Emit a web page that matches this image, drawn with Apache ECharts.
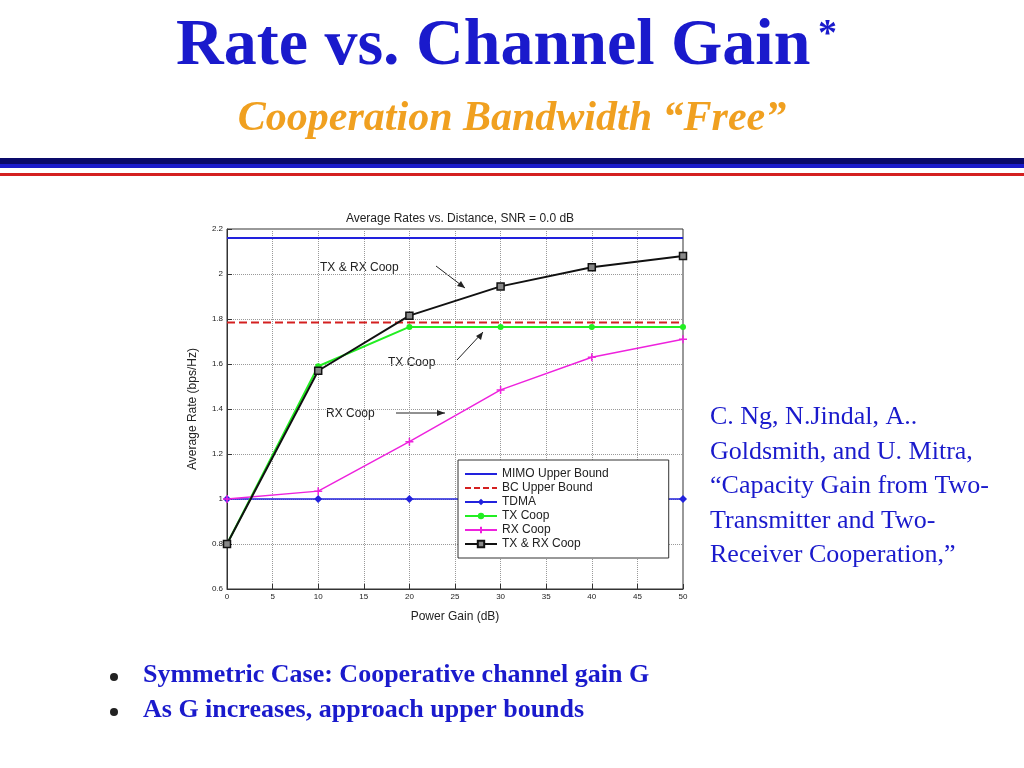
<!DOCTYPE html>
<html><head><meta charset="utf-8">
<script src="https://cdn.jsdelivr.net/npm/echarts@6/dist/echarts.min.js"></script>
<style>html,body{margin:0;padding:0;background:#fff}#main{width:1024px;height:768px}</style>
</head><body><div id="main"></div>
<script>
var xData = [0, 10, 20, 30, 40, 50];
var mimo = [2.16, 2.16, 2.16, 2.16, 2.16, 2.16];
var bc = [1.785, 1.785, 1.785, 1.785, 1.785, 1.785];
var tdma = [1.0, 1.0, 1.0, 1.0, 1.0, 1.0];
var txCoop = [0.8, 1.59, 1.765, 1.765, 1.765, 1.765];
var rxCoop = [1.0, 1.035, 1.255, 1.485, 1.63, 1.71];
var txrxCoop = [0.8, 1.57, 1.815, 1.945, 2.03, 2.08];

function pts(arr) {
  return arr.map(function (v, i) { return [xData[i], v]; });
}

var chart = echarts.init(document.getElementById('main'));
var option = {
  backgroundColor: '#fff',
  animation: false,
  title: [
    { text: 'Average Rates vs. Distance, SNR = 0.0 dB', left: 455, top: 208, textAlign: 'center',
      textStyle: { fontSize: 12, fontWeight: 'normal', color: '#222', fontFamily: 'Liberation Sans' } }
  ],
  grid: { left: 227, right: 341, top: 229, bottom: 179, show: true, borderColor: '#333', borderWidth: 1 },
  xAxis: {
    type: 'value', min: 0, max: 50, interval: 5,
    name: 'Power Gain (dB)', nameLocation: 'middle', nameGap: 22,
    nameTextStyle: { fontSize: 12, color: '#222' },
    axisLine: { lineStyle: { color: '#333' } },
    axisTick: { inside: true, lineStyle: { color: '#333' } },
    axisLabel: { fontSize: 8, color: '#222', margin: 4 },
    splitLine: { lineStyle: { type: 'dotted', color: '#999' } }
  },
  yAxis: {
    type: 'value', min: 0.6, max: 2.2, interval: 0.2,
    name: 'Average Rate (bps/Hz)', nameLocation: 'middle', nameGap: 28,
    nameTextStyle: { fontSize: 12, color: '#222' },
    axisLine: { lineStyle: { color: '#333' } },
    axisTick: { inside: true, lineStyle: { color: '#333' } },
    axisLabel: { fontSize: 8, color: '#222', margin: 4, formatter: function (v) { return +v.toFixed(1); } },
    splitLine: { lineStyle: { type: 'dotted', color: '#999' } }
  },
  legend: {
    orient: 'vertical', left: 458, top: 460, itemGap: 2, itemWidth: 32, itemHeight: 8,
    backgroundColor: '#fff', borderColor: '#333', borderWidth: 1, padding: [8, 60, 8, 6],
    textStyle: { fontSize: 12, color: '#222' },
    data: [
      { name: 'MIMO Upper Bound', icon: 'path://M0,4 L32,4 L32,6 L0,6 Z' },
      { name: 'BC Upper Bound', icon: 'path://M0,4 L6,4 L6,6 L0,6 Z M9,4 L15,4 L15,6 L9,6 Z M18,4 L24,4 L24,6 L18,6 Z M27,4 L32,4 L32,6 L27,6 Z' },
      'TDMA', 'TX Coop', 'RX Coop', 'TX & RX Coop'
    ]
  },
  series: [
    { name: 'MIMO Upper Bound', type: 'line', data: pts(mimo), symbol: 'none',
      lineStyle: { color: '#2222dd', width: 2 }, itemStyle: { color: '#2222dd' } },
    { name: 'BC Upper Bound', type: 'line', data: pts(bc), symbol: 'none',
      lineStyle: { color: '#d42020', width: 2, type: 'dashed' }, itemStyle: { color: '#d42020' } },
    { name: 'TDMA', type: 'line', data: pts(tdma), symbol: 'diamond', symbolSize: 8,
      lineStyle: { color: '#2222dd', width: 1.5 }, itemStyle: { color: '#2222dd' } },
    { name: 'TX Coop', type: 'line', data: pts(txCoop), symbol: 'circle', symbolSize: 6,
      lineStyle: { color: '#22ee22', width: 2 }, itemStyle: { color: '#22ee22' } },
    { name: 'RX Coop', type: 'line', data: pts(rxCoop), symbol: 'path://M0,5 L10,5 M5,0 L5,10', symbolSize: 8,
      lineStyle: { color: '#ee22dd', width: 1.5 }, itemStyle: { color: '#ee22dd', borderColor: '#ee22dd', borderWidth: 1.5 } },
    { name: 'TX & RX Coop', type: 'line', data: pts(txrxCoop), symbol: 'rect', symbolSize: 7,
      lineStyle: { color: '#111', width: 2 }, itemStyle: { color: '#888', borderColor: '#111', borderWidth: 1.5 } }
  ],
  graphic: [
    { type: 'text', left: 176, top: 14, style: { text: 'Rate vs. Channel Gain', font: 'bold 66px "Liberation Serif"', fill: '#1a1acc' } },
    { type: 'text', left: 818, top: 16, style: { text: '*', font: 'bold 38px "Liberation Serif"', fill: '#1a1acc' } },
    { type: 'text', left: 'center', top: 98, style: { text: 'Cooperation Bandwidth \u201cFree\u201d', font: 'italic bold 42px "Liberation Serif"', fill: '#f0a020' } },
    { type: 'rect', shape: { x: 0, y: 158, width: 1024, height: 6 }, style: { fill: '#0a0a6a' } },
    { type: 'rect', shape: { x: 0, y: 164, width: 1024, height: 4 }, style: { fill: '#1a1acc' } },
    { type: 'rect', shape: { x: 0, y: 173, width: 1024, height: 3 }, style: { fill: '#d42020' } },
    { type: 'text', left: 710, top: 400, style: { text: 'C. Ng, N.Jindal, A..\nGoldsmith, and U. Mitra,\n\u201cCapacity Gain from Two-\nTransmitter and Two-\nReceiver Cooperation,\u201d', font: '26px "Liberation Serif"', fill: '#1a1acc', lineHeight: 34.5 } },
    { type: 'circle', shape: { cx: 114, cy: 677, r: 4 }, style: { fill: '#222' } },
    { type: 'circle', shape: { cx: 114, cy: 712, r: 4 }, style: { fill: '#222' } },
    { type: 'text', left: 143, top: 662, style: { text: 'Symmetric Case: Cooperative channel gain G', font: 'bold 26px "Liberation Serif"', fill: '#1a1acc' } },
    { type: 'text', left: 143, top: 697, style: { text: 'As G increases, approach upper bounds', font: 'bold 26px "Liberation Serif"', fill: '#1a1acc' } },
    { type: 'text', left: 320, top: 262, style: { text: 'TX & RX Coop', font: '12px "Liberation Sans"', fill: '#222' } },
    { type: 'text', left: 388, top: 357, style: { text: 'TX Coop', font: '12px "Liberation Sans"', fill: '#222' } },
    { type: 'text', left: 326, top: 408, style: { text: 'RX Coop', font: '12px "Liberation Sans"', fill: '#222' } },
    { type: 'line', shape: { x1: 436, y1: 266, x2: 465, y2: 288 }, style: { stroke: '#222', lineWidth: 1 } },
    { type: 'polygon', shape: { points: [[465, 288], [457, 286], [461, 281]] }, style: { fill: '#222' } },
    { type: 'line', shape: { x1: 457, y1: 360, x2: 483, y2: 332 }, style: { stroke: '#222', lineWidth: 1 } },
    { type: 'polygon', shape: { points: [[483, 332], [481, 340], [476, 336]] }, style: { fill: '#222' } },
    { type: 'line', shape: { x1: 396, y1: 413, x2: 445, y2: 413 }, style: { stroke: '#222', lineWidth: 1 } },
    { type: 'polygon', shape: { points: [[445, 413], [437, 410], [437, 416]] }, style: { fill: '#222' } }
  ]
};
chart.setOption(option);
</script></body></html>
